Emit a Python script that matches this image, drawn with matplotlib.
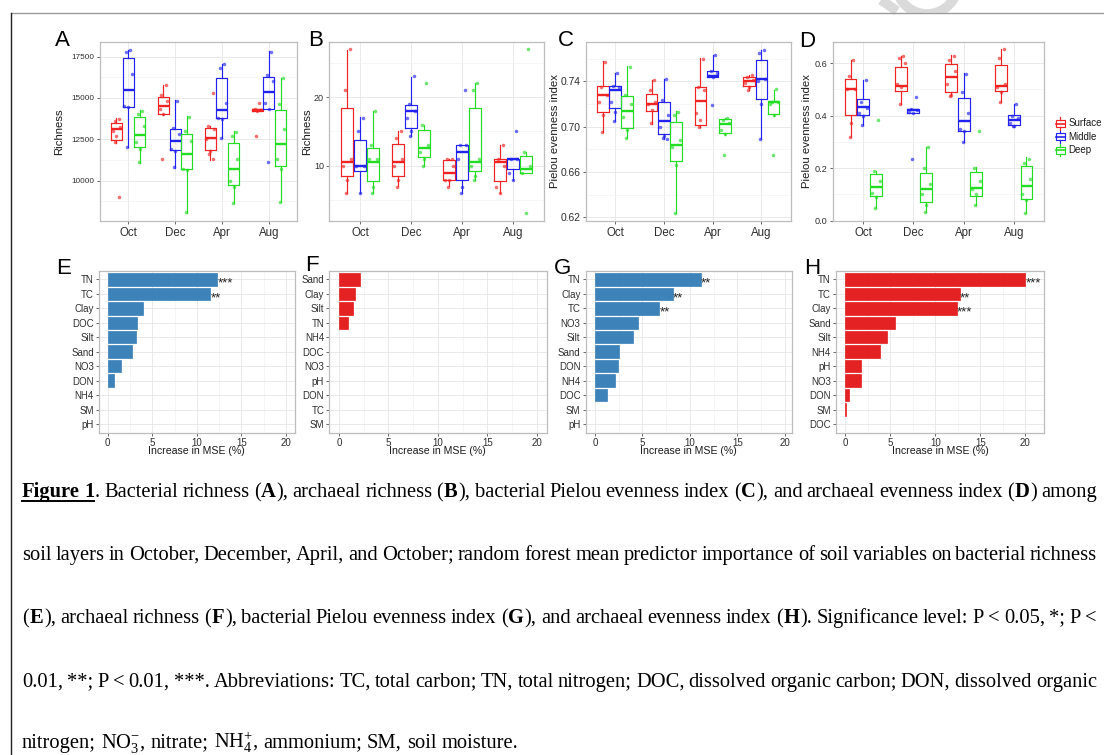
import math
import matplotlib
matplotlib.use('Agg')
import matplotlib.pyplot as plt
from matplotlib.patches import Arc, Rectangle
from matplotlib.ticker import FixedLocator

W, H, DPI = 1104, 755, 100

# ---------------------------------------------------------------- data
MONTHS = ['Oct', 'Dec', 'Apr', 'Aug']
LAYERS = ['Surface', 'Middle', 'Deep']
LAYER_COLORS = ['#F02222', '#2222F0', '#22DD22']

# box statistics: [month][layer] = (lower whisker, Q1, median, Q3, upper whisker)
A_stats = [
    [(12270, 12430, 13100, 13500, 13780), (12010, 14440, 15470, 17400, 17920), (11070, 12050, 12780, 13840, 14240)],
    [(13940, 14020, 14530, 15070, 15790), (10780, 11830, 12390, 13140, 14850), (8050, 10700, 11630, 12820, 13900)],
    [(11270, 11830, 12550, 13180, 13300), (12550, 13780, 14280, 16210, 17060), (8650, 9720, 10680, 12270, 12980)],
    [(14200, 14230, 14260, 14300, 14320), (14300, 14340, 15350, 16250, 17820), (8710, 10870, 12230, 14240, 16190)],
]
A_points = [
    [[13750, 13600, 13250, 13000, 12700, 12300, 9000], [17900, 17800, 16450, 14500, 14450, 12050], [14200, 14000, 13300, 12300, 11900, 11100]],
    [[15750, 15200, 14800, 14300, 14000, 11300], [14800, 13200, 12800, 11900, 11800, 10800], [13850, 13000, 12400, 10700, 10650, 8100]],
    [[15300, 13300, 13100, 12500, 11800, 11600, 11300], [17050, 16800, 14700, 13800, 13750, 12550], [12950, 12700, 11300, 10000, 9600, 8650]],
    [[14700, 14300, 14250, 14250, 14200, 12700], [17800, 16400, 16000, 14700, 14300, 11100], [16200, 14600, 13100, 11300, 10700, 8700]],
]

B_stats = [
    [(6.1, 8.6, 10.5, 18.45, 26.9), (6.1, 9.3, 10.05, 13.8, 17.1), (6.1, 7.8, 10.5, 12.55, 18.05)],
    [(7.1, 8.6, 10.5, 13.25, 15.0), (14.35, 15.45, 18.0, 18.9, 22.9), (10.0, 11.3, 12.55, 15.25, 16.0)],
    [(7.05, 8.0, 9.0, 10.8, 11.0), (6.1, 8.0, 12.0, 13.1, 13.1), (8.0, 9.3, 10.5, 18.45, 22.0)],
    [(6.1, 7.8, 10.5, 11.05, 13.0), (8.0, 9.55, 11.0, 11.05, 11.05), (9.03, 9.03, 9.55, 11.5, 12.0)],
]
B_points = [
    [[27, 21, 11, 10, 8, 6], [17, 15, 10, 10, 6], [18, 13, 11, 11, 7, 6]],
    [[15, 14, 11, 10, 8, 7], [23, 19, 18, 17, 15, 14.3], [22, 16, 13, 12, 11, 10]],
    [[11, 11, 10, 8, 8, 7], [21, 13, 13, 11, 7, 6], [22, 21, 11, 10, 8.5, 8]],
    [[13, 11, 10, 7, 6], [15, 11, 11, 9, 8], [27, 12, 10, 9, 3.2]],
]

C_stats = [
    [(0.695, 0.7129, 0.7284, 0.7363, 0.7582), (0.705, 0.7167, 0.7325, 0.7363, 0.7474), (0.6898, 0.6991, 0.714, 0.7269, 0.7533)],
    [(0.7026, 0.714, 0.72, 0.7293, 0.7416), (0.689, 0.6936, 0.7053, 0.7214, 0.742), (0.6239, 0.6699, 0.6842, 0.7038, 0.7135)],
    [(0.6997, 0.7012, 0.7231, 0.7348, 0.7606), (0.7442, 0.7442, 0.745, 0.7495, 0.7635), (0.693, 0.6947, 0.7026, 0.707, 0.708)],
    [(0.732, 0.7363, 0.7407, 0.7442, 0.746), (0.6889, 0.7243, 0.7421, 0.7591, 0.7679), (0.7094, 0.7114, 0.7222, 0.7228, 0.7328)],
]
C_points = [
    [[0.757, 0.735, 0.728, 0.722, 0.71, 0.695], [0.747, 0.736, 0.735, 0.722, 0.713, 0.705], [0.753, 0.728, 0.72, 0.709, 0.697, 0.69]],
    [[0.741, 0.732, 0.722, 0.72, 0.715, 0.703], [0.742, 0.724, 0.71, 0.70, 0.692, 0.69, 0.689], [0.713, 0.71, 0.688, 0.682, 0.666, 0.624]],
    [[0.76, 0.735, 0.732, 0.712, 0.706, 0.70], [0.7635, 0.749, 0.747, 0.745, 0.744, 0.7196], [0.708, 0.706, 0.703, 0.697, 0.694, 0.675]],
    [[0.746, 0.744, 0.741, 0.739, 0.735, 0.732], [0.768, 0.765, 0.742, 0.74, 0.72, 0.689], [0.733, 0.722, 0.722, 0.72, 0.71, 0.675]],
]

D_stats = [
    [(0.318, 0.403, 0.501, 0.540, 0.611), (0.365, 0.403, 0.432, 0.464, 0.534), (0.0496, 0.094, 0.130, 0.179, 0.19)],
    [(0.445, 0.492, 0.513, 0.583, 0.628), (0.411, 0.411, 0.421, 0.426, 0.426), (0.034, 0.070, 0.121, 0.180, 0.28)],
    [(0.473, 0.489, 0.545, 0.596, 0.629), (0.301, 0.342, 0.380, 0.466, 0.562), (0.06, 0.095, 0.126, 0.187, 0.206)],
    [(0.45, 0.492, 0.511, 0.594, 0.653), (0.357, 0.364, 0.384, 0.403, 0.445), (0.028, 0.083, 0.132, 0.208, 0.2415)],
]
D_points = [
    [[0.61, 0.55, 0.50, 0.50, 0.37, 0.32], [0.535, 0.45, 0.43, 0.41, 0.40, 0.365], [0.384, 0.19, 0.15, 0.107, 0.09, 0.05]],
    [[0.628, 0.62, 0.60, 0.52, 0.51, 0.445], [0.47, 0.425, 0.42, 0.415, 0.41, 0.236], [0.28, 0.2, 0.14, 0.1, 0.06, 0.035]],
    [[0.628, 0.61, 0.57, 0.52, 0.48, 0.475], [0.56, 0.49, 0.41, 0.35, 0.34, 0.30], [0.34, 0.2, 0.15, 0.12, 0.1, 0.06]],
    [[0.655, 0.62, 0.52, 0.51, 0.49, 0.45], [0.445, 0.40, 0.39, 0.37, 0.36, 0.36], [0.235, 0.22, 0.16, 0.10, 0.08, 0.03]],
]

# random forest importance (% increase in MSE), top to bottom
E_vars = ['TN', 'TC', 'Clay', 'DOC', 'Silt', 'Sand', 'NO3', 'DON', 'NH4', 'SM', 'pH']
E_vals = [12.3, 11.5, 3.96, 3.25, 3.2, 2.77, 1.46, 0.67, 0, 0, 0]
E_sig = ['***', '**', '', '', '', '', '', '', '', '', '']

F_vars = ['Sand', 'Clay', 'Silt', 'TN', 'NH4', 'DOC', 'NO3', 'pH', 'DON', 'TC', 'SM']
F_vals = [2.12, 1.63, 1.46, 0.87, 0, 0, 0, 0, 0, 0, 0]
F_sig = [''] * 11

G_vars = ['TN', 'Clay', 'TC', 'NO3', 'Silt', 'Sand', 'DON', 'NH4', 'DOC', 'SM', 'pH']
G_vals = [11.16, 8.2, 6.77, 4.53, 4.04, 2.53, 2.46, 2.14, 1.26, 0, 0]
G_sig = ['**', '**', '**', '', '', '', '', '', '', '', '']

H_vars = ['TN', 'TC', 'Clay', 'Sand', 'Silt', 'NH4', 'pH', 'NO3', 'DON', 'SM', 'DOC']
H_vals = [20.0, 12.75, 12.42, 5.58, 4.66, 3.92, 1.77, 1.77, 0.44, 0.07, 0]
H_sig = ['***', '**', '***', '', '', '', '', '', '', '', '']

# caption: '#' toggles bold+underline, '|' toggles bold
CAPTION = [
    "#Figure 1#. Bacterial richness (|A|), archaeal richness (|B|), bacterial Pielou evenness index (|C|), and archaeal evenness index (|D|) among",
    "soil layers in October, December, April, and October; random forest mean predictor importance of soil variables on bacterial richness",
    "(|E|), archaeal richness (|F|), bacterial Pielou evenness index (|G|), and archaeal evenness index (|H|). Significance level: P < 0.05, *; P <",
    "0.01, **; P < 0.01, ***. Abbreviations: TC, total carbon; TN, total nitrogen; DOC, dissolved organic carbon; DON, dissolved organic",
    "nitrogen; NO$_3^{-}$, nitrate; NH$_4^{+}$, ammonium; SM, soil moisture.",
]

# ---------------------------------------------------------------- style
SANS = 'Liberation Sans'
SERIF = 'Liberation Serif'
FRAME = '#BDBDBD'
GRID_MAJ = '#E6E6E6'
GRID_MIN = '#F2F2F2'
TICK_C = '#4D4D4D'
LABEL_C = '#2E2E2E'
BAR_BLUE = '#377EB8'
BAR_RED = '#E41A1C'
JITTER = [0.05, -0.04, 0.08, -0.08, 0.0, -0.02, 0.06]

plt.rcParams['mathtext.fontset'] = 'custom'
plt.rcParams['mathtext.rm'] = SERIF
plt.rcParams['mathtext.it'] = SERIF + ':italic'
plt.rcParams['mathtext.bf'] = SERIF + ':bold'
plt.rcParams['mathtext.default'] = 'rm'

fig = plt.figure(figsize=(W / DPI, H / DPI), dpi=DPI)
fig.patch.set_facecolor('white')

# full-figure layer in pixel units for caption, letters and frame
ov = fig.add_axes([0, 0, 1, 1])
ov.set_xlim(0, W)
ov.set_ylim(H, 0)
ov.axis('off')


def add_px_axes(l, t, r, b):
    return fig.add_axes([l / W, 1 - b / H, (r - l) / W, (b - t) / H])


def style_frame(ax):
    for s in ax.spines.values():
        s.set_color(FRAME)
        s.set_linewidth(0.9)
    ax.set_axisbelow(True)
    ax.set_facecolor('white')


def box_panel(ax, stats, points, ylim, yticks, ylabels, yminor, ylabel,
              ytick_fs, ylabel_x):
    style_frame(ax)
    ax.set_xlim(0.4, 4.6)
    ax.set_ylim(*ylim)
    ax.xaxis.set_major_locator(FixedLocator([1, 2, 3, 4]))
    ax.set_xticklabels(MONTHS)
    ax.yaxis.set_major_locator(FixedLocator(yticks))
    ax.yaxis.set_minor_locator(FixedLocator(yminor))
    ax.set_yticklabels(ylabels)
    ax.grid(which='major', color=GRID_MAJ, lw=0.6)
    ax.grid(which='minor', axis='y', color=GRID_MIN, lw=0.45)
    ax.tick_params(which='minor', length=0)
    ax.tick_params(which='major', length=2.5, width=0.6, color=TICK_C,
                   labelcolor=LABEL_C, pad=1.5)
    ax.tick_params(axis='y', labelsize=ytick_fs)
    ax.tick_params(axis='x', labelsize=8.3)
    for lab in ax.get_xticklabels() + ax.get_yticklabels():
        lab.set_family(SANS)
    ax.set_ylabel(ylabel, family=SANS, fontsize=8.2, color='#1A1A1A')
    ax.yaxis.label.set_va('center')
    ax.yaxis.set_label_coords(ylabel_x, 0.5)
    for i in range(4):
        for j in range(3):
            pos = i + 1 + (j - 1) * 0.25
            wl, q1, med, q3, wh = stats[i][j]
            c = LAYER_COLORS[j]
            ax.bxp([dict(whislo=wl, q1=q1, med=med, q3=q3, whishi=wh, fliers=[])],
                   positions=[pos], widths=0.235, showfliers=False, showcaps=False,
                   manage_ticks=False,
                   boxprops=dict(color=c, lw=0.85),
                   whiskerprops=dict(color=c, lw=0.85),
                   medianprops=dict(color=c, lw=1.7))
            pts = points[i][j]
            xs = [pos + JITTER[k % len(JITTER)] for k in range(len(pts))]
            ax.scatter(xs, pts, s=6.5, color=c, alpha=0.65, lw=0, zorder=3)


def bar_panel(ax, names, vals, sig, color, xlim):
    style_frame(ax)
    n = len(names)
    ypos = [n - k for k in range(n)]
    bx = [y for y, v in zip(ypos, vals) if v > 0]
    bv = [v for v in vals if v > 0]
    ax.barh(bx, bv, height=0.86, color=color, edgecolor=color, lw=0.5,
            alpha=0.97, zorder=2)
    ax.set_ylim(0.4, n + 0.6)
    ax.set_xlim(*xlim)
    ax.yaxis.set_major_locator(FixedLocator(ypos))
    ax.set_yticklabels(names)
    ax.xaxis.set_major_locator(FixedLocator([0, 5, 10, 15, 20]))
    ax.xaxis.set_minor_locator(FixedLocator([2.5, 7.5, 12.5, 17.5]))
    ax.grid(which='major', color=GRID_MAJ, lw=0.6)
    ax.grid(which='minor', axis='x', color=GRID_MIN, lw=0.45)
    ax.tick_params(which='minor', length=0)
    ax.tick_params(which='major', length=2.3, width=0.6, color=TICK_C,
                   labelcolor=LABEL_C, labelsize=7, pad=1.3)
    for lab in ax.get_xticklabels() + ax.get_yticklabels():
        lab.set_family(SANS)
    ax.set_xlabel('Increase in MSE (%)', family=SANS, fontsize=7.6,
                  color='#1A1A1A')
    ax.xaxis.label.set_va('center')
    ax.xaxis.set_label_coords(0.5, -0.115)
    for y, v, s in zip(ypos, vals, sig):
        if s:
            ax.text(v + 0.02, y - 0.52, s, fontsize=9.5, family=SANS,
                    va='baseline', ha='left', color='#222222')


# ---------------------------------------------------------------- top row
axA = add_px_axes(100, 42, 297, 221)
box_panel(axA, A_stats, A_points, (7550, 18380), [10000, 12500, 15000, 17500],
          ['10000', '12500', '15000', '17500'], [8750, 11250, 13750, 16250],
          'Richness', 5.9, -0.207)
axB = add_px_axes(329.4, 42, 543.6, 221)
box_panel(axB, B_stats, B_points, (2.0, 28.0), [10, 20], ['10', '20'],
          [5, 15, 25], 'Richness', 6.5, -0.106)
axC = add_px_axes(585.7, 42, 790.7, 221)
box_panel(axC, C_stats, C_points, (0.6168, 0.7748), [0.62, 0.66, 0.70, 0.74],
          ['0.62', '0.66', '0.70', '0.74'], [0.64, 0.68, 0.72, 0.76],
          'Pielou evenness index', 7.4, -0.15)
axD = add_px_axes(833, 42, 1044, 221)
box_panel(axD, D_stats, D_points, (-0.001, 0.68), [0.0, 0.2, 0.4, 0.6],
          ['0.0', '0.2', '0.4', '0.6'], [0.1, 0.3, 0.5],
          'Pielou evenness index', 6.6, -0.125)

# ---------------------------------------------------------------- bottom row
axE = add_px_axes(98.8, 270.7, 294.9, 432.7)
bar_panel(axE, E_vars, E_vals, E_sig, BAR_BLUE, (-1.0, 21.0))
axF = add_px_axes(329.2, 270.7, 546.5, 432.7)
bar_panel(axF, F_vars, F_vals, F_sig, BAR_RED, (-1.0, 21.0))
axG = add_px_axes(585.5, 270.7, 792.0, 432.7)
bar_panel(axG, G_vars, G_vals, G_sig, BAR_BLUE, (-1.0, 20.75))
axH = add_px_axes(836.0, 270.7, 1044.3, 432.7)
bar_panel(axH, H_vars, H_vals, H_sig, BAR_RED, (-1.0, 22.1))

# ---------------------------------------------------------------- legend (panel D)
for k, (name, c) in enumerate(zip(LAYERS, LAYER_COLORS)):
    yc = 123.5 + k * 13.3
    ov.add_patch(Rectangle((1055.5, yc - 3.6), 9.5, 7.2, fill=False,
                           edgecolor=c, lw=0.85))
    ov.plot([1055.5, 1065], [yc, yc], color=c, lw=1.2)
    ov.plot([1060.25, 1060.25], [yc - 6.2, yc - 3.6], color=c, lw=0.85)
    ov.plot([1060.25, 1060.25], [yc + 3.6, yc + 6.2], color=c, lw=0.85)
    ov.text(1068.5, yc, name, family=SANS, fontsize=7, va='center',
            ha='left', color='#1A1A1A')

# ---------------------------------------------------------------- panel letters
LETTERS = [('A', 55, 46), ('B', 308, 46.5), ('C', 558, 46.5), ('D', 799, 47),
           ('E', 56, 273.5), ('F', 305, 271), ('G', 554, 274), ('H', 804, 273.5)]
for letter, lx, ly in LETTERS:
    ov.text(lx, ly, letter, family=SANS, fontsize=16, va='baseline',
            ha='left', color='black')

# ---------------------------------------------------------------- page frame
ov.add_patch(Arc((927, -17), 62, 62, theta1=20, theta2=160,
                 color='#DADADA', lw=7))
ov.plot([881, 897], [0, 11], color='#DADADA', lw=7, solid_capstyle='butt')
ov.add_patch(Rectangle((0, 12.5), W, 30, color='white', zorder=1.5))
ov.plot([11, W], [13, 13], color='#9A9A9A', lw=1.0, zorder=2)
ov.plot([11, 11], [13, H], color='#222222', lw=1.0, zorder=2)

# ---------------------------------------------------------------- caption
renderer = fig.canvas.get_renderer()


def parse_line(line):
    words, cur, seg = [], [], ''
    bold = ul = False
    for ch in line:
        if ch in '#|':
            if seg:
                cur.append((seg, bold, ul))
                seg = ''
            if ch == '#':
                bold = not bold
                ul = not ul
            else:
                bold = not bold
        elif ch == ' ':
            if seg:
                cur.append((seg, bold, ul))
                seg = ''
            if cur:
                words.append(cur)
                cur = []
        else:
            seg += ch
    if seg:
        cur.append((seg, bold, ul))
    if cur:
        words.append(cur)
    return words


def metrics(text, fs, bold):
    """Ink width plus a baseline correction (pixels) for one caption piece.

    The Agg text bitmap is snapped to whole pixels from its bottom edge, so
    pieces with different descents would land on slightly different rows;
    the correction keeps every piece on the same baseline row."""
    t = ov.text(0, 0, text, family=SERIF, fontsize=fs,
                fontweight='bold' if bold else 'normal')
    w = t.get_window_extent(renderer).width
    clean, ismath = t._preprocess_math(text)
    t.remove()
    if ismath:
        return w, 0.0
    _, h, d = renderer.get_text_width_height_descent(
        clean, t.get_fontproperties(), ismath=False)
    a = h - d
    k = math.floor(a + d + 1e-9) - math.floor(a + 1e-9)
    return w, k - d


SEG_PAD = 0.7
parsed = [parse_line(l) for l in CAPTION]
CAP_X0, CAP_X1 = 22, 1097
LAST_END = 519
BASELINES = [497, 560, 623, 687, 748]

fs0 = 12.0
w_last = sum(metrics(s, fs0, b)[0] for w in parsed[-1] for s, b, u in w)
sp0 = 0.25 * fs0 * DPI / 72
fs = fs0 * (LAST_END - CAP_X0) / (w_last + sp0 * (len(parsed[-1]) - 1))

for li, (words, yb) in enumerate(zip(parsed, BASELINES)):
    m = [[metrics(s, fs, b) for s, b, u in w] for w in words]
    word_w = [sum(x[0] for x in mw) + SEG_PAD * (len(mw) - 1) for mw in m]
    if li < len(parsed) - 1:
        gap = (CAP_X1 - CAP_X0 - sum(word_w)) / (len(words) - 1)
    else:
        gap = 0.25 * fs * DPI / 72
    x = CAP_X0
    ul_start = ul_end = None
    for w, mw, ww in zip(words, m, word_w):
        xs = x
        for (s, b, u), (sw, corr) in zip(w, mw):
            ov.text(xs, yb + corr + 0.002, s, family=SERIF, fontsize=fs,
                    fontweight='bold' if b else 'normal', va='baseline',
                    ha='left', color='black')
            if u:
                if ul_start is None:
                    ul_start = xs
                ul_end = xs + sw
            xs += sw + SEG_PAD
        x += ww + gap
    if ul_start is not None:
        ov.plot([ul_start, ul_end], [yb + 4, yb + 4], color='black', lw=1.4)

fig.savefig('out.png', dpi=DPI, facecolor='white')
